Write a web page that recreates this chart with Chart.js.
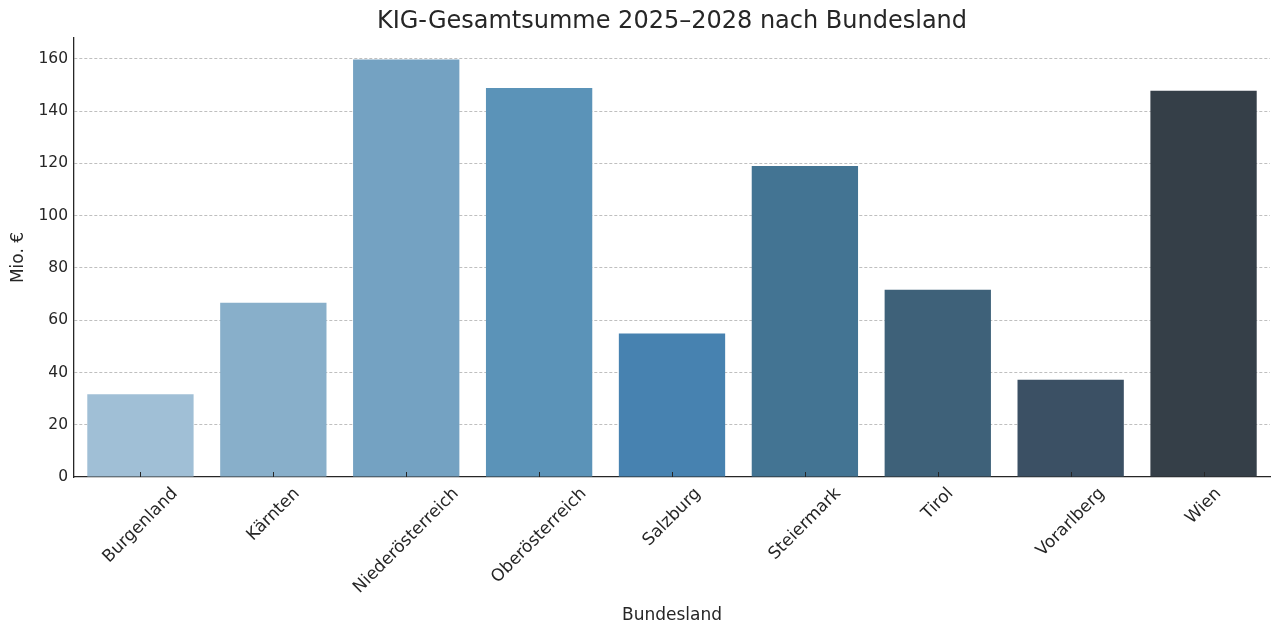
<!DOCTYPE html>
<html lang="de">
<head>
<meta charset="utf-8">
<title>KIG-Gesamtsumme nach Bundesland</title>
<script src="https://cdn.jsdelivr.net/npm/chart.js@4.4.1/dist/chart.umd.min.js"></script>
<style>
  html, body { margin: 0; padding: 0; background: #ffffff; }
  #wrap { width: 1280px; height: 635px; }
</style>
</head>
<body>
<div id="wrap"><canvas id="kig-chart" width="1280" height="635"></canvas></div>
<script>
// Daten (Mio. €)
const bundeslaender = ["Burgenland", "Kärnten", "Niederösterreich", "Oberösterreich", "Salzburg", "Steiermark", "Tirol", "Vorarlberg", "Wien"];
const gesamtsumme = [31.7, 66.7, 159.8, 148.9, 54.9, 119.0, 71.7, 37.2, 147.8];
const yAchseMax = 168;
const yAchseSchritt = 20;

// Farbverlauf wie seaborn "Blues_d"
const balkenFarben = ["#a0bfd6", "#88afca", "#74a2c2", "#5b93b8", "#4782b0", "#437493", "#3e6179", "#3b5064", "#353f48"];

const textFarbe = "#262626";
const schrift = '"DejaVu Sans", sans-serif';

// eigene, um 45° gedrehte und zentrierte Kategorienbeschriftung (wie matplotlib)
const gedrehteLabels = {
    id: "gedrehteLabels",
    afterDraw(chart) {
        const ctx = chart.ctx;
        const xs = chart.scales.x;
        const groesse = 17;
        ctx.save();
        ctx.font = groesse + "px " + schrift;
        ctx.fillStyle = textFarbe;
        ctx.strokeStyle = textFarbe;
        ctx.lineWidth = 1;
        bundeslaender.forEach((name, i) => {
            const x = xs.getPixelForTick(i);
            // kleine Tick-Striche nach innen
            ctx.beginPath();
            ctx.moveTo(Math.round(x) + 0.5, xs.top);
            ctx.lineTo(Math.round(x) + 0.5, xs.top - 5);
            ctx.stroke();

            const w = ctx.measureText(name).width;
            const h = groesse * 1.17;
            const H = (w + h) * Math.SQRT1_2;
            ctx.save();
            ctx.translate(x, xs.top + 7 + H / 2);
            ctx.rotate(-Math.PI / 4);
            ctx.textAlign = "center";
            ctx.textBaseline = "middle";
            ctx.fillText(name, 0, 0);
            ctx.restore();
        });
        ctx.restore();
    }
};

const ctx = document.getElementById("kig-chart").getContext("2d");
new Chart(ctx, {
    type: "bar",
    data: {
        labels: bundeslaender,
        datasets: [{
            label: "Gesamtsumme",
            data: gesamtsumme,
            backgroundColor: balkenFarben,
            borderWidth: 0,
            barPercentage: 0.8,
            categoryPercentage: 1.0
        }]
    },
    options: {
        responsive: false,
        animation: false,
        devicePixelRatio: 1,
        layout: { padding: { left: 0, right: 10, top: 0, bottom: 0 } },
        plugins: {
            legend: { display: false },
            tooltip: { enabled: false },
            title: {
                display: true,
                fullSize: false,
                text: "KIG-Gesamtsumme 2025–2028 nach Bundesland",
                color: textFarbe,
                font: { family: schrift, size: 24, weight: "normal" },
                padding: { top: 7, bottom: 2.2 }
            }
        },
        scales: {
            x: {
                ticks: {
                    color: "rgba(0,0,0,0)",
                    autoSkip: false,
                    maxRotation: 45,
                    minRotation: 45,
                    font: { family: schrift, size: 17 }
                },
                grid: { display: false, drawTicks: false },
                border: { display: true, color: textFarbe, width: 1.3 },
                title: {
                    display: true,
                    text: "Bundesland",
                    color: textFarbe,
                    font: { family: schrift, size: 17 },
                    padding: { top: 0, bottom: 9 }
                },
                afterFit(scale) { scale.height = 158; }
            },
            y: {
                z: 1,
                min: 0,
                max: yAchseMax,
                ticks: {
                    stepSize: yAchseSchritt,
                    includeBounds: false,
                    color: textFarbe,
                    padding: 6,
                    font: { family: schrift, size: 15.5 }
                },
                grid: {
                    drawTicks: false,
                    color: (c) => (c.tick && c.tick.value === 0) ? "rgba(0,0,0,0)" : "rgba(128,128,128,0.5)",
                    lineWidth: 1
                },
                border: { display: true, color: textFarbe, width: 1.3, dash: [3, 2] },
                title: {
                    display: true,
                    text: "Mio. €",
                    color: textFarbe,
                    font: { family: schrift, size: 17 },
                    padding: { top: 8, bottom: 0 }
                },
                afterFit(scale) { scale.width = 74; }
            }
        }
    },
    plugins: [gedrehteLabels]
});
</script>
</body>
</html>
